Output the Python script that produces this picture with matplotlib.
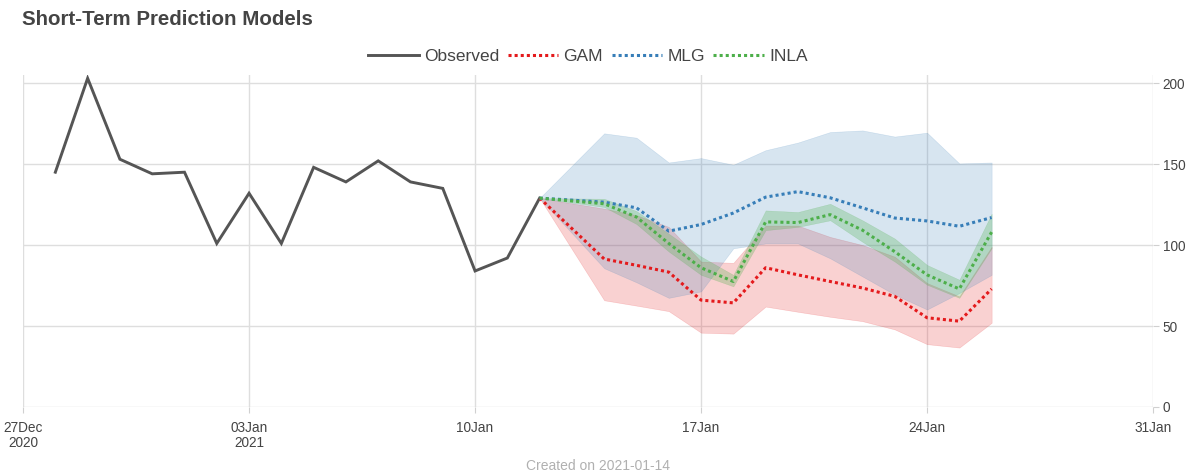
import matplotlib
matplotlib.use('Agg')
import matplotlib.pyplot as plt
import pandas as pd

# observed counts
obs_dates = pd.date_range('2020-12-28', '2021-01-12', freq='D')
obs_values = [145, 203, 153, 144, 145, 101, 132, 101, 148, 139, 152, 139, 135, 84, 92, 129]

# model forecasts, starting from the last observed day
pred_dates = pd.to_datetime(['2021-01-12', '2021-01-14', '2021-01-15', '2021-01-16',
                             '2021-01-17', '2021-01-18', '2021-01-19', '2021-01-20',
                             '2021-01-21', '2021-01-22', '2021-01-23', '2021-01-24',
                             '2021-01-25', '2021-01-26'])

gam_mean = [129, 91.4, 87.5, 83.3, 66, 64.3, 86, 81.6, 77.5, 73.5, 68.3, 55.1, 53, 72.9]
gam_lower = [129, 65.9, 62.6, 59.2, 45.9, 45.3, 62, 58.8, 55.7, 53, 47.9, 38.8, 36.7, 52]
gam_upper = [129, 122.5, 118.4, 111.2, 89.8, 89, 112, 112, 105, 100, 92.8, 76.5, 68.3, 99]

mlg_mean = [129, 126.5, 123, 108.6, 112.7, 119.8, 129.6, 133, 129.2, 123, 116.7, 114.9, 111.6, 117]
mlg_lower = [129, 85.7, 77, 67.4, 71.4, 98, 101, 101, 91.8, 80.6, 69.4, 60.2, 70.4, 81.6]
mlg_upper = [129, 169, 166.3, 151, 153.7, 149.6, 158.6, 163.3, 169.8, 170.8, 167, 169.4, 150.4, 151]

inla_mean = [129, 125.5, 117.3, 101, 86, 77.5, 114.3, 113.9, 118.8, 109.2, 95.9, 81.6, 72.9, 108]
inla_lower = [129, 123.5, 113, 96, 81.6, 74.5, 109.2, 111.2, 115.3, 102, 89.8, 75.5, 67.4, 98]
inla_upper = [129, 128.6, 121, 107, 92.9, 81.6, 121.4, 120.4, 125.5, 115.3, 104, 87.7, 78.6, 119.4]

x_ticks = pd.to_datetime(['2020-12-27', '2021-01-03', '2021-01-10',
                          '2021-01-17', '2021-01-24', '2021-01-31'])
x_ticklabels = ['27Dec\n2020', '03Jan\n2021', '10Jan', '17Jan', '24Jan', '31Jan']
y_ticks = [0, 50, 100, 150, 200]

RED = '#e41a1c'
BLUE = '#377eb8'
GREEN = '#4daf4a'
GREY = '#555555'
TEXT = '#444444'


def main():
    plt.rcParams['font.family'] = ['Liberation Sans', 'DejaVu Sans']
    fig = plt.figure(figsize=(11.95, 4.75), dpi=100)
    ax = fig.add_axes([0.0193, 0.1432, 0.9456, 0.6988])

    ax.plot(obs_dates, obs_values, color=GREY, lw=2.1, label='Observed', zorder=5,
            solid_joinstyle='miter')

    ax.fill_between(pred_dates, gam_lower, gam_upper, color=RED, alpha=0.2, lw=0.4, zorder=2)
    ax.fill_between(pred_dates, mlg_lower, mlg_upper, color=BLUE, alpha=0.2, lw=0.4, zorder=2)
    ax.fill_between(pred_dates, inla_lower, inla_upper, color=GREEN, alpha=0.27, lw=0.3, zorder=3)

    dots = (0, (1, 1))
    ax.plot(pred_dates, gam_mean, color=RED, lw=2.2, ls=dots, label='GAM', zorder=6)
    ax.plot(pred_dates, mlg_mean, color=BLUE, lw=2.2, ls=dots, label='MLG', zorder=6)
    ax.plot(pred_dates, inla_mean, color=GREEN, lw=2.2, ls=dots, label='INLA', zorder=6)

    ax.set_xlim(x_ticks[0], x_ticks[-1])
    ax.set_ylim(0, 205)
    ax.set_xticks(x_ticks)
    ax.set_xticklabels(x_ticklabels)
    ax.set_yticks(y_ticks)
    ax.yaxis.tick_right()
    for s in ax.spines.values():
        s.set_visible(False)
    ax.grid(True, color='#dedede', lw=1.0)
    ax.set_axisbelow(True)
    ax.tick_params(axis='both', length=4, color='#d0d0d0', labelcolor=TEXT, labelsize=9.8)
    ax.tick_params(axis='x', pad=6)
    ax.tick_params(axis='y', pad=3)
    for lbl in ax.get_xticklabels():
        lbl.set_linespacing(1.1)

    fig.text(0.0184, 0.958, 'Short-Term Prediction Models', fontsize=14.8, fontweight='bold',
             color=TEXT, ha='left', va='center')
    fig.legend(loc='center', bbox_to_anchor=(0.492, 0.882), ncol=4, frameon=False,
               fontsize=12.5, handlelength=2.9, handletextpad=0.3, columnspacing=0.5,
               labelcolor=TEXT)
    fig.text(0.5, 0.019, 'Created on 2021-01-14', fontsize=10, color='#b0b0b0',
             ha='center', va='center')

    fig.savefig('out.png', dpi=100)


if __name__ == '__main__':
    main()
